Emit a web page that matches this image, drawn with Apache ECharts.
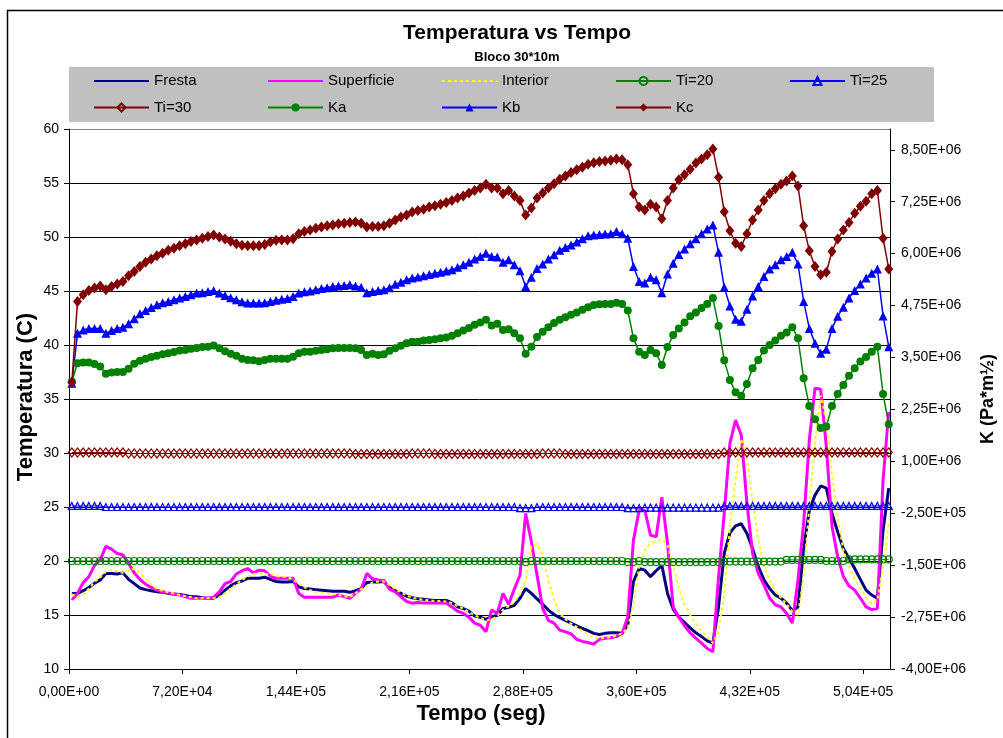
<!DOCTYPE html>
<html>
<head>
<meta charset="utf-8">
<title>Temperatura vs Tempo</title>
<script src="https://cdn.jsdelivr.net/npm/echarts@6/dist/echarts.min.js"></script>
<style>
  html, body { margin: 0; padding: 0; background: #fff; }
  #chart { width: 1003px; height: 738px; }
</style>
</head>
<body>
<div id="chart"></div>
<script>
// Hourly readings, first one half an hour after start (seconds)
const T0 = 1800;
const DT = 3600;

// Temperatures (C), left axis
const fresta = [
  17.0, 17.0, 17.25, 17.55, 17.95, 18.25, 18.85, 18.85, 18.8, 18.9,
  18.3, 17.9, 17.5, 17.35, 17.25, 17.15, 17.1, 17.0, 16.95, 16.9,
  16.8, 16.7, 16.7, 16.6, 16.55, 16.55, 16.85, 17.3, 17.7, 18.0,
  18.15, 18.4, 18.4, 18.4, 18.5, 18.3, 18.1, 18.05, 18.05, 18.1,
  17.6, 17.45, 17.4, 17.35, 17.3, 17.25, 17.2, 17.2, 17.2, 17.1,
  17.25, 17.45, 18.0, 18.05, 18.05, 18.1, 17.55, 17.25, 17.0, 16.75,
  16.6, 16.5, 16.45, 16.4, 16.35, 16.35, 16.35, 16.15, 15.75, 15.6,
  15.35, 14.9, 14.8, 14.6, 14.85, 14.95, 15.6, 15.7, 15.9, 16.55,
  17.45, 17.0, 16.5, 16.0, 15.45, 15.05, 14.75, 14.5, 14.25, 14.0,
  13.75, 13.55, 13.3, 13.2, 13.3, 13.35, 13.35, 13.3, 14.1, 18.1,
  19.3, 19.15, 18.55, 19.1, 19.6, 17.0, 15.55, 14.8, 14.3, 13.8,
  13.35, 13.0, 12.6, 12.4, 15.75, 20.7, 22.6, 23.25, 23.45, 22.55,
  21.15, 19.5, 18.25, 17.45, 16.85, 16.55, 16.1, 15.4, 15.75, 21.15,
  24.7, 26.1, 26.95, 26.75, 24.4, 22.7, 21.15, 20.25, 19.3, 18.3,
  17.3, 16.85, 16.55, 22.85, 26.75
];
const superficie = [
  16.4, 17.0, 18.0, 18.55, 19.6, 20.1, 21.35, 21.1, 20.7, 20.55,
  19.8, 18.9, 18.3, 17.85, 17.55, 17.3, 17.15, 17.05, 16.95, 16.85,
  16.7, 16.55, 16.55, 16.55, 16.55, 16.65, 17.15, 17.9, 18.1, 18.8,
  19.1, 19.3, 18.9, 19.15, 19.1, 18.6, 18.4, 18.4, 18.4, 18.4,
  17.0, 16.65, 16.65, 16.65, 16.65, 16.65, 16.65, 16.85, 16.7, 16.55,
  17.0, 17.4, 18.85, 18.35, 18.25, 18.2, 17.4, 17.15, 16.7, 16.25,
  16.1, 16.15, 16.1, 16.1, 16.1, 16.1, 16.1, 15.75, 15.35, 15.15,
  14.8, 14.25, 14.05, 13.45, 15.45, 15.15, 17.0, 16.0, 17.4, 18.7,
  24.4, 21.8, 18.7, 15.6, 14.5, 14.25, 13.6, 13.45, 13.25, 12.75,
  12.55, 12.45, 12.3, 12.75, 12.85, 12.9, 13.0, 13.3, 14.8, 21.95,
  24.7, 24.7, 22.4, 22.25, 25.9, 21.65, 15.75, 14.8, 14.0, 13.35,
  12.85, 12.4, 11.9, 11.6, 18.55, 24.4, 30.9, 33.05, 31.65, 25.35,
  20.7, 18.85, 17.8, 16.55, 15.95, 15.75, 15.15, 14.25, 18.25, 23.5,
  31.2, 36.0, 35.9, 30.6, 23.2, 20.4, 18.55, 17.7, 17.3, 16.55,
  15.75, 15.5, 15.6, 27.5, 33.8
];
const interior = [
  16.9, 16.7, 16.85, 17.45, 18.05, 18.5, 19.0, 19.2, 19.05, 18.9,
  19.1, 19.3, 18.85, 18.4, 17.8, 17.4, 17.25, 17.1, 17.0, 16.85,
  16.75, 16.65, 16.55, 16.55, 16.55, 16.55, 16.65, 17.0, 17.45, 17.85,
  18.25, 18.55, 18.8, 18.85, 18.8, 18.8, 18.6, 18.55, 18.5, 18.3,
  17.9, 17.55, 17.3, 17.15, 17.05, 17.0, 16.95, 16.85, 16.75, 16.65,
  17.0, 17.4, 17.7, 18.0, 18.1, 18.1, 17.8, 17.4, 17.1, 16.8,
  16.6, 16.5, 16.4, 16.35, 16.3, 16.3, 16.25, 16.1, 15.8, 15.6,
  15.3, 14.95, 14.75, 14.5, 14.6, 14.9, 15.5, 15.8, 16.2, 16.9,
  18.2, 21.3, 21.6, 20.6, 18.2, 16.4, 15.2, 14.6, 14.2, 13.9,
  13.5, 13.2, 12.9, 12.8, 12.9, 12.95, 13.1, 13.3, 13.8, 16.0,
  19.4, 21.0, 21.6, 21.8, 22.0, 21.5, 19.5, 17.5, 16.0, 15.0,
  14.2, 13.5, 13.0, 12.4, 13.5, 17.0, 23.2, 27.5, 31.3, 29.5,
  25.5, 22.0, 19.5, 18.2, 17.2, 16.6, 16.0, 15.3, 15.0, 18.5,
  25.0, 31.0, 35.3, 33.0, 28.0, 24.0, 21.0, 19.5, 18.3, 17.5,
  16.6, 16.0, 16.4, 19.5, 23.5
];
const ti20 = [
  20.0, 20.0, 20.0, 20.0, 20.0, 20.0, 20.0, 20.0, 20.0, 20.0,
  20.0, 20.0, 20.0, 20.0, 20.0, 20.0, 20.0, 20.0, 20.0, 20.0,
  20.0, 20.0, 20.0, 20.0, 20.0, 20.0, 20.0, 20.0, 20.0, 20.0,
  20.0, 20.0, 20.0, 20.0, 20.0, 20.0, 20.0, 20.0, 20.0, 20.0,
  20.0, 20.0, 20.0, 20.0, 20.0, 20.0, 20.0, 20.0, 20.0, 20.0,
  20.0, 20.0, 20.0, 20.0, 20.0, 20.0, 20.0, 20.0, 20.0, 20.0,
  20.0, 20.0, 20.0, 20.0, 20.0, 20.0, 20.0, 20.0, 20.0, 20.0,
  20.0, 20.0, 20.0, 20.0, 20.0, 20.0, 20.0, 20.0, 20.0, 20.0,
  19.9, 20.0, 20.0, 20.0, 20.0, 20.0, 20.0, 20.0, 20.0, 20.0,
  20.0, 20.0, 20.0, 20.0, 20.0, 20.0, 20.0, 20.0, 19.9, 19.9,
  20.0, 19.9, 19.9, 19.9, 19.9, 19.9, 19.9, 19.9, 19.9, 19.9,
  19.9, 19.9, 19.9, 19.9, 19.9, 19.95, 19.95, 19.95, 19.95, 19.95,
  19.95, 19.95, 19.95, 19.95, 19.95, 19.95, 20.1, 20.1, 20.1, 20.1,
  20.1, 20.1, 20.1, 20.0, 20.0, 20.0, 20.0, 20.15, 20.15, 20.15,
  20.15, 20.15, 20.15, 20.15, 20.15
];
const ti25 = [
  25.1, 25.1, 25.1, 25.1, 25.1, 25.1, 25.0, 25.0, 25.0, 25.0,
  25.0, 25.0, 25.0, 25.0, 25.0, 25.0, 25.0, 25.0, 25.0, 25.0,
  25.0, 25.0, 25.0, 25.0, 25.0, 25.0, 25.0, 25.0, 25.0, 25.0,
  25.0, 25.0, 25.0, 25.0, 25.0, 25.0, 25.0, 25.0, 25.0, 25.0,
  25.0, 25.0, 25.0, 25.0, 25.0, 25.0, 25.0, 25.0, 25.0, 25.0,
  25.0, 25.0, 25.0, 25.0, 25.0, 25.0, 25.0, 25.0, 25.0, 25.0,
  25.0, 25.0, 25.0, 25.0, 25.0, 25.0, 25.0, 25.0, 25.0, 25.0,
  25.0, 25.0, 25.0, 25.0, 25.0, 25.0, 25.0, 25.0, 25.0, 24.9,
  24.9, 24.9, 25.0, 25.0, 25.0, 25.0, 25.0, 25.0, 25.0, 25.0,
  25.0, 25.0, 25.0, 25.0, 25.0, 25.0, 25.0, 25.0, 24.9, 24.9,
  24.9, 24.95, 24.95, 24.95, 24.95, 24.95, 24.95, 24.95, 24.95, 24.95,
  24.95, 24.95, 24.95, 24.95, 24.95, 25.1, 25.1, 25.1, 25.1, 25.1,
  25.1, 25.1, 25.1, 25.1, 25.1, 25.1, 25.1, 25.1, 25.1, 25.1,
  25.1, 25.1, 25.1, 25.1, 25.1, 25.1, 25.1, 25.1, 25.1, 25.1,
  25.1, 25.1, 25.1, 25.1, 25.1
];
const ti30 = [
  30.05, 30.05, 30.05, 30.05, 30.05, 30.05, 30.05, 30.05, 30.05, 30.05,
  29.95, 29.95, 29.95, 29.95, 29.95, 29.95, 29.95, 29.95, 29.95, 29.95,
  29.95, 29.95, 29.95, 29.95, 29.95, 29.95, 29.95, 29.95, 29.95, 29.95,
  29.95, 29.95, 29.95, 29.95, 29.95, 29.95, 29.95, 29.95, 29.95, 29.95,
  29.95, 29.95, 29.95, 29.95, 29.95, 29.95, 29.95, 29.95, 29.95, 29.95,
  29.9, 29.9, 29.9, 29.9, 29.9, 29.9, 29.9, 29.9, 29.9, 29.9,
  29.95, 29.95, 29.95, 29.95, 29.9, 29.9, 29.9, 29.9, 29.9, 29.9,
  29.9, 29.9, 29.9, 29.9, 29.9, 29.9, 29.9, 29.9, 29.9, 29.9,
  29.9, 29.9, 29.9, 29.95, 29.95, 29.95, 29.95, 29.9, 29.9, 29.9,
  29.9, 29.9, 29.9, 29.9, 29.9, 29.9, 29.9, 29.9, 29.9, 29.9,
  29.9, 29.9, 29.9, 29.9, 29.9, 29.9, 29.9, 29.9, 29.9, 29.9,
  29.9, 29.9, 29.9, 29.9, 29.9, 30.05, 30.05, 30.05, 30.05, 30.05,
  30.05, 30.05, 30.05, 30.05, 30.05, 30.05, 30.05, 30.05, 30.05, 30.05,
  30.05, 30.05, 30.05, 30.05, 30.05, 30.05, 30.05, 30.05, 30.05, 30.05,
  30.05, 30.05, 30.05, 30.05, 30.05
];

// Stress intensity K, right axis, in units of 1e6 Pa*m^1/2
const ka = [
  2.92, 3.36, 3.38, 3.38, 3.34, 3.28, 3.11, 3.14, 3.15, 3.15,
  3.23, 3.35, 3.42, 3.47, 3.51, 3.54, 3.58, 3.60, 3.63, 3.67,
  3.68, 3.71, 3.73, 3.75, 3.76, 3.79, 3.72, 3.65, 3.59, 3.54,
  3.47, 3.44, 3.43, 3.41, 3.44, 3.47, 3.47, 3.47, 3.47, 3.52,
  3.60, 3.64, 3.64, 3.66, 3.68, 3.70, 3.72, 3.73, 3.73, 3.73,
  3.72, 3.68, 3.56, 3.59, 3.56, 3.58, 3.66, 3.72, 3.78, 3.84,
  3.88, 3.88, 3.91, 3.92, 3.94, 3.96, 3.98, 4.02, 4.08, 4.15,
  4.21, 4.29, 4.34, 4.41, 4.27, 4.31, 4.16, 4.18, 4.08, 3.96,
  3.59, 3.76, 3.99, 4.12, 4.23, 4.33, 4.41, 4.47, 4.53, 4.58,
  4.65, 4.71, 4.76, 4.78, 4.79, 4.79, 4.82, 4.79, 4.63, 3.96,
  3.64, 3.56, 3.68, 3.60, 3.32, 3.75, 4.04, 4.20, 4.34, 4.49,
  4.58, 4.69, 4.79, 4.93, 4.26, 3.43, 2.96, 2.66, 2.58, 2.86,
  3.24, 3.44, 3.67, 3.80, 3.91, 4.02, 4.10, 4.23, 3.96, 3.00,
  2.33, 2.01, 1.80, 1.84, 2.33, 2.62, 2.84, 3.06, 3.24, 3.40,
  3.51, 3.64, 3.76, 2.62, 1.89
];
const kb = [
  2.88, 4.08, 4.16, 4.20, 4.20, 4.20, 4.08, 4.15, 4.20, 4.23,
  4.31, 4.43, 4.55, 4.63, 4.70, 4.77, 4.82, 4.85, 4.89, 4.93,
  4.97, 5.01, 5.05, 5.06, 5.09, 5.11, 5.05, 4.99, 4.94, 4.89,
  4.84, 4.81, 4.81, 4.81, 4.82, 4.85, 4.88, 4.90, 4.92, 4.97,
  5.05, 5.08, 5.10, 5.13, 5.16, 5.18, 5.21, 5.22, 5.23, 5.25,
  5.22, 5.19, 5.06, 5.09, 5.11, 5.13, 5.18, 5.26, 5.31, 5.37,
  5.41, 5.44, 5.47, 5.50, 5.53, 5.55, 5.58, 5.61, 5.67, 5.73,
  5.79, 5.87, 5.93, 6.01, 5.93, 5.92, 5.79, 5.85, 5.73, 5.59,
  5.21, 5.43, 5.64, 5.75, 5.87, 5.97, 6.08, 6.15, 6.21, 6.28,
  6.36, 6.43, 6.45, 6.46, 6.47, 6.48, 6.53, 6.48, 6.37, 5.69,
  5.33, 5.29, 5.43, 5.37, 5.06, 5.51, 5.77, 5.98, 6.11, 6.24,
  6.36, 6.48, 6.59, 6.69, 6.03, 5.19, 4.74, 4.42, 4.37, 4.66,
  4.98, 5.21, 5.45, 5.63, 5.73, 5.85, 5.93, 6.03, 5.75, 4.85,
  4.20, 3.84, 3.60, 3.70, 4.20, 4.49, 4.71, 4.93, 5.11, 5.27,
  5.41, 5.53, 5.63, 4.50, 3.76
];
const kc = [
  2.90, 4.85, 5.01, 5.11, 5.17, 5.22, 5.13, 5.21, 5.27, 5.33,
  5.47, 5.57, 5.69, 5.79, 5.87, 5.95, 6.01, 6.08, 6.13, 6.19,
  6.24, 6.29, 6.33, 6.37, 6.41, 6.45, 6.40, 6.35, 6.30, 6.24,
  6.20, 6.19, 6.19, 6.19, 6.22, 6.28, 6.32, 6.33, 6.33, 6.36,
  6.48, 6.53, 6.57, 6.61, 6.64, 6.67, 6.69, 6.72, 6.73, 6.75,
  6.76, 6.73, 6.64, 6.65, 6.65, 6.67, 6.73, 6.81, 6.88, 6.93,
  7.00, 7.04, 7.07, 7.12, 7.15, 7.19, 7.23, 7.28, 7.34, 7.39,
  7.46, 7.52, 7.58, 7.67, 7.58, 7.58, 7.44, 7.52, 7.39, 7.28,
  6.93, 7.10, 7.34, 7.46, 7.58, 7.68, 7.79, 7.87, 7.95, 8.02,
  8.08, 8.15, 8.19, 8.22, 8.23, 8.25, 8.28, 8.26, 8.14, 7.44,
  7.12, 7.05, 7.19, 7.12, 6.84, 7.28, 7.58, 7.78, 7.90, 8.03,
  8.18, 8.28, 8.38, 8.52, 7.84, 7.01, 6.55, 6.25, 6.17, 6.48,
  6.81, 7.05, 7.28, 7.44, 7.56, 7.67, 7.75, 7.87, 7.63, 6.67,
  6.07, 5.69, 5.49, 5.55, 6.05, 6.35, 6.57, 6.75, 6.97, 7.14,
  7.26, 7.44, 7.52, 6.37, 5.63
];

// Axis ranges and legend rows
const xTicks = { min: 0, max: 521000, step: 72000 };
const tempTicks = { min: 10, max: 60, step: 5 };
const kTicks = { min: -4, max: 9, step: 1.25 };
const legendRow1 = ['Fresta', 'Superficie', 'Interior', 'Ti=20', 'Ti=25'];
const legendRow2 = ['Ti=30', 'Ka', 'Kb', 'Kc'];

const tempo = fresta.map((_, i) => T0 + i * DT);
const pts = arr => arr.map((v, i) => [tempo[i], v]);

// Excel-style scientific notation with a decimal comma: 7,20E+04
function sci(v) {
  if (Math.abs(v) < 1e-9) return '0,00E+00';
  let e = Math.floor(Math.log10(Math.abs(v)));
  let m = (v / Math.pow(10, e)).toFixed(2);
  if (Math.abs(parseFloat(m)) >= 10) { e += 1; m = (v / Math.pow(10, e)).toFixed(2); }
  return m.replace('.', ',') + 'E' + (e < 0 ? '-' : '+') + String(Math.abs(e)).padStart(2, '0');
}

const FONT = '"Liberation Sans", Arial, Helvetica, sans-serif';
const noMark = { itemStyle: { opacity: 0 } };

const legendBase = {
  orient: 'horizontal',
  left: 93,
  padding: 0,
  itemWidth: 55,
  itemHeight: 10,
  itemGap: 5,
  selectedMode: false,
  textStyle: { fontFamily: FONT, fontSize: 15, color: '#000', width: 108, lineHeight: 16 }
};

// gridlines black, the top edge of the plot area grey
const gridColors = ['#000', '#000', '#000', '#000', '#000', '#000', '#000', '#000', '#000', '#000', '#808080'];

const chart = echarts.init(document.getElementById('chart'), null, { renderer: 'canvas' });

chart.setOption({
  animation: false,
  backgroundColor: '#ffffff',
  textStyle: { fontFamily: FONT },
  grid: { left: 69, right: 113, top: 129, bottom: 69, outerBoundsMode: 'none', containLabel: false },
  legend: [
    Object.assign({}, legendBase, {
      top: 73,
      data: legendRow1.map(n => (n === 'Fresta' || n === 'Superficie' || n === 'Interior') ? Object.assign({ name: n }, noMark) : { name: n })
    }),
    Object.assign({}, legendBase, {
      top: 99.5,
      data: legendRow2.map(n => ({ name: n }))
    })
  ],
  xAxis: {
    type: 'value',
    min: xTicks.min, max: xTicks.max, interval: xTicks.step,
    axisLine: { show: true, onZero: false, lineStyle: { color: '#000', width: 1 } },
    axisTick: { show: true, length: 5, lineStyle: { color: '#000' } },
    axisLabel: { formatter: sci, fontSize: 14, color: '#000', margin: 16, showMaxLabel: false, fontFamily: FONT },
    splitLine: { show: false }
  },
  yAxis: [
    {
      type: 'value', position: 'left',
      min: tempTicks.min, max: tempTicks.max, interval: tempTicks.step,
      axisLine: { show: true, onZero: false, lineStyle: { color: '#000', width: 1 } },
      axisTick: { show: true, length: 5, lineStyle: { color: '#000' } },
      axisLabel: { fontSize: 14, color: '#000', margin: 10, fontFamily: FONT },
      splitLine: { show: true, lineStyle: { color: gridColors, width: 1 } }
    },
    {
      type: 'value', position: 'right',
      min: kTicks.min, max: kTicks.max, interval: kTicks.step,
      axisLine: { show: true, onZero: false, lineStyle: { color: '#000', width: 1 } },
      axisTick: { show: true, length: 5, lineStyle: { color: '#000' } },
      axisLabel: { formatter: v => sci(v * 1e6), showMaxLabel: false, fontSize: 14, color: '#000', margin: 11, fontFamily: FONT },
      splitLine: { show: false }
    }
  ],
  graphic: {
    elements: [
      { type: 'rect', silent: true, z: 0, shape: { x: 7.5, y: 10.5, width: 1100, height: 1000 },
        style: { fill: 'none', stroke: '#000', lineWidth: 1.5 } },
      { type: 'rect', silent: true, z: 0, shape: { x: 69, y: 67, width: 865, height: 55 },
        style: { fill: '#C0C0C0' } },
      { type: 'text', silent: true, x: 517, y: 33,
        style: { text: 'Temperatura vs Tempo', fill: '#000', font: 'bold 21px ' + FONT, align: 'center', verticalAlign: 'middle' } },
      { type: 'text', silent: true, x: 517, y: 57,
        style: { text: 'Bloco 30*10m', fill: '#000', font: 'bold 13px ' + FONT, align: 'center', verticalAlign: 'middle' } },
      { type: 'text', silent: true, x: 481, y: 714,
        style: { text: 'Tempo (seg)', fill: '#000', font: 'bold 22px ' + FONT, align: 'center', verticalAlign: 'middle' } },
      { type: 'text', silent: true, x: 26, y: 397, rotation: Math.PI / 2,
        style: { text: 'Temperatura (C)', fill: '#000', font: 'bold 22px ' + FONT, align: 'center', verticalAlign: 'middle' } },
      { type: 'text', silent: true, x: 988, y: 399, rotation: Math.PI / 2,
        style: { text: 'K (Pa*m½)', fill: '#000', font: 'bold 18px ' + FONT, align: 'center', verticalAlign: 'middle' } }
    ]
  },
  series: [
    { name: 'Fresta', type: 'line', yAxisIndex: 0, data: pts(fresta), symbol: 'none',
      lineStyle: { color: '#000080', width: 3 }, itemStyle: { color: '#000080' } },
    { name: 'Superficie', type: 'line', yAxisIndex: 0, data: pts(superficie), symbol: 'none',
      lineStyle: { color: '#FF00FF', width: 3 }, itemStyle: { color: '#FF00FF' } },
    { name: 'Interior', type: 'line', yAxisIndex: 0, data: pts(interior), symbol: 'none',
      lineStyle: { color: '#FFFF00', width: 2, type: [3, 3] }, itemStyle: { color: '#FFFF00' } },
    { name: 'Ti=20', type: 'line', yAxisIndex: 0, data: pts(ti20), symbol: 'circle', symbolSize: 7,
      lineStyle: { color: '#008000', width: 1 },
      itemStyle: { color: 'rgba(255,255,255,0)', borderColor: '#008000', borderWidth: 1.2 } },
    { name: 'Ti=25', type: 'line', yAxisIndex: 0, data: pts(ti25), symbol: 'triangle', symbolSize: 7,
      lineStyle: { color: '#0000FF', width: 1 },
      itemStyle: { color: 'rgba(255,255,255,0)', borderColor: '#0000FF', borderWidth: 1.2 } },
    { name: 'Ti=30', type: 'line', yAxisIndex: 0, data: pts(ti30), symbol: 'diamond', symbolSize: [7, 9],
      lineStyle: { color: '#800000', width: 1 },
      itemStyle: { color: 'rgba(255,255,255,0)', borderColor: '#800000', borderWidth: 1.2 } },
    { name: 'Ka', type: 'line', yAxisIndex: 1, data: pts(ka), symbol: 'circle', symbolSize: 8,
      lineStyle: { color: '#008000', width: 1.5 }, itemStyle: { color: '#008000' } },
    { name: 'Kb', type: 'line', yAxisIndex: 1, data: pts(kb), symbol: 'triangle', symbolSize: 9,
      lineStyle: { color: '#0000FF', width: 1.5 }, itemStyle: { color: '#0000FF' } },
    { name: 'Kc', type: 'line', yAxisIndex: 1, data: pts(kc), symbol: 'diamond', symbolSize: [9, 11],
      lineStyle: { color: '#800000', width: 1.5 }, itemStyle: { color: '#800000' } }
  ]
});
</script>
</body>
</html>
